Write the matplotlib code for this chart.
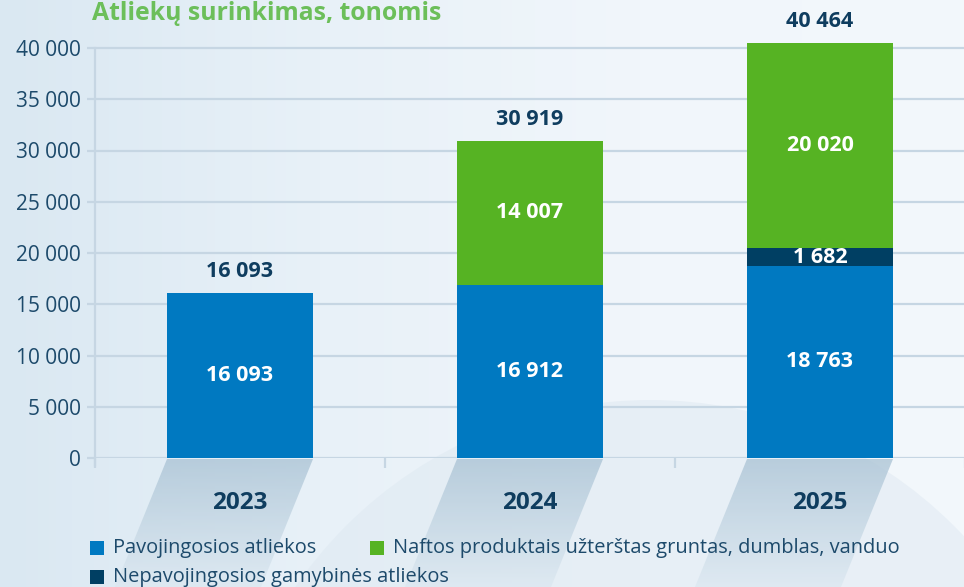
import matplotlib
matplotlib.use("Agg")
import matplotlib.pyplot as plt
import numpy as np
from matplotlib.patches import Polygon, Rectangle, Ellipse
from matplotlib.colors import LinearSegmentedColormap

years = ["2023", "2024", "2025"]
pavojingosios = [16093, 16912, 18763]
nepavojingosios = [0, 0, 1682]
naftos = [0, 14007, 20020]
totals = [16093, 30919, 40464]
yticks = [0, 5000, 10000, 15000, 20000, 25000, 30000, 35000, 40000]
ytick_labels = ["0", "5 000", "10 000", "15 000", "20 000", "25 000", "30 000", "35 000", "40 000"]
legend_labels = ["Pavojingosios atliekos",
                 "Naftos produktais užterštas gruntas, dumblas, vanduo",
                 "Nepavojingosios gamybinės atliekos"]
title = "Atliekų surinkimas, tonomis"

def fmt(v):
    return f"{v:,}".replace(",", " ")

C_BLUE = "#0079C1"
C_GREEN = "#56B323"
C_DARK = "#003F63"
C_TEXT = "#0F3D5F"
C_TICK = "#1D4A6B"
C_GRID = "#C6D6E3"

plt.rcParams['font.family'] = ['Open Sans', 'DejaVu Sans']

W, H = 964, 587
fig = plt.figure(figsize=(W / 100, H / 100), dpi=100)

# background
bg = fig.add_axes([0, 0, 1, 1], zorder=-10)
bg.set_xlim(0, W); bg.set_ylim(H, 0)
bg.axis("off")
grad = np.linspace(0, 1, 256)[None, :]
cmap = LinearSegmentedColormap.from_list("bg", ["#DAE8F2", "#E8F1F8", "#F1F6FB", "#F3F8FC"])
bg.imshow(grad, aspect="auto", cmap=cmap, extent=[0, W, H, 0], zorder=0)
bg.add_patch(Ellipse((650, 830), 860, 860, facecolor="#DCE7F0", edgecolor="none",
                     alpha=0.45, zorder=1))
bg.set_xlim(0, W); bg.set_ylim(H, 0)

# shadows under bars (vertical gradient clipped to trapezoids)
shcmap = LinearSegmentedColormap.from_list("sh", ["#A9C2D4", "#DCE8F1"])
vgrad = np.linspace(0, 1, 256)[:, None]
for i in range(3):
    cx = 95 + 145 + 290 * i
    l, r = cx - 73, cx + 73
    poly = Polygon([(l, 459), (r, 459), (r - 52, H), (l - 52, H)], closed=True,
                   facecolor="none", edgecolor="none")
    bg.add_patch(poly)
    im = bg.imshow(vgrad, aspect="auto", cmap=shcmap, extent=[l - 60, r, H, 459],
                   alpha=0.75, zorder=2)
    im.set_clip_path(poly)
bg.set_xlim(0, W); bg.set_ylim(H, 0)

# main axes: x from 95 to 965 px, y0 at 458 px, ylim 0..42000
ytop_val = 42000
px_per = (458 - 48) / 40000
top_px = 458 - ytop_val * px_per
ax = fig.add_axes([95 / W, 1 - 458 / H, 870 / W, (458 - top_px) / H])
ax.patch.set_alpha(0)

x = np.arange(len(years))
bw = 0.503
ax.bar(x, pavojingosios, bw, color=C_BLUE, zorder=3)
ax.bar(x, nepavojingosios, bw, bottom=pavojingosios, color=C_DARK, zorder=3)
bottom2 = [a + b for a, b in zip(pavojingosios, nepavojingosios)]
ax.bar(x, naftos, bw, bottom=bottom2, color=C_GREEN, zorder=3)

ax.set_xlim(-0.5, 2.5)
ax.set_ylim(0, ytop_val)
ax.set_yticks(yticks)
ax.set_yticklabels(ytick_labels, fontsize=15, color=C_TICK)
ax.yaxis.grid(True, color=C_GRID, linewidth=1.6, zorder=0)
ax.set_axisbelow(True)
ax.tick_params(axis="y", length=6, color=C_GRID, width=1.6, pad=4)
ax.set_xticks([-0.5, 0.5, 1.5, 2.5])
ax.set_xticklabels([])
ax.tick_params(axis="x", length=7, color=C_GRID, width=1.6)
for s in ["top", "right", "bottom"]:
    ax.spines[s].set_visible(False)
ax.spines["left"].set_color(C_GRID)
ax.spines["left"].set_linewidth(1.6)
ax.spines["left"].set_bounds(-700, 40000)

# labels inside bars
FS_IN = 15.5
for i in range(len(years)):
    if pavojingosios[i] > 0:
        ax.text(x[i], pavojingosios[i] / 2, fmt(pavojingosios[i]), ha="center", va="center",
                color="white", fontsize=FS_IN, fontweight="bold", zorder=5)
    if nepavojingosios[i] > 0:
        ax.text(x[i], pavojingosios[i] + nepavojingosios[i] / 2, fmt(nepavojingosios[i]),
                ha="center", va="center", color="white", fontsize=FS_IN, fontweight="bold", zorder=5)
    if naftos[i] > 0:
        ax.text(x[i], bottom2[i] + naftos[i] / 2, fmt(naftos[i]), ha="center", va="center",
                color="white", fontsize=FS_IN, fontweight="bold", zorder=5)
    ax.text(x[i], totals[i] + 2100, fmt(totals[i]), ha="center", va="center",
            color=C_TEXT, fontsize=15.5, fontweight="bold", zorder=5)

# year labels
for i in range(len(years)):
    cx = 95 + 145 + 290 * i
    fig.text(cx / W, 1 - 503 / H, years[i], ha="center", va="center",
             fontsize=17.5, fontweight="bold", color=C_TEXT)

# title
fig.text(92 / W, 1 - 0.5 / H, title, ha="left", va="top", fontsize=17.8,
         fontweight="bold", color="#6CBF5A")

# legend (manual)
leg = [(90, 548, C_BLUE, legend_labels[0]),
       (370, 548, C_GREEN, legend_labels[1]),
       (90, 577, C_DARK, legend_labels[2])]
for lx, ly, col, lab in leg:
    fig.patches.append(Rectangle((lx / W, 1 - (ly + 7) / H), 14 / W, 14 / H,
                                 transform=fig.transFigure, facecolor=col, edgecolor="none"))
    fig.text((lx + 23) / W, 1 - ly / H, lab, ha="left", va="center", fontsize=14.4,
             color=C_TICK)

fig.savefig("out.png", dpi=100)
